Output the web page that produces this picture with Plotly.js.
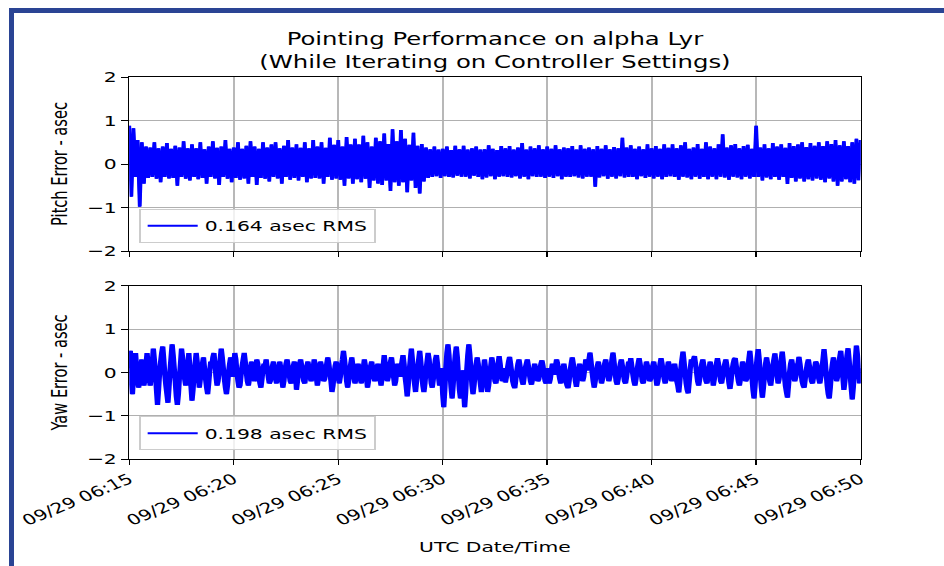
<!DOCTYPE html>
<html><head><meta charset="utf-8">
<script src="https://cdn.plot.ly/plotly-3.0.1.min.js"></script>
<style>
html,body{margin:0;padding:0;background:#fff;overflow:hidden;width:944px;height:566px;}
#wrap{position:absolute;left:0;top:0;width:679px;height:566px;transform:scaleX(1.3903);transform-origin:0 0;}
#chart{width:679px;height:566px;}
.bt{position:absolute;left:9px;top:8px;width:935px;height:5px;background:#2a4494;z-index:5}
.bl{position:absolute;left:9px;top:8px;width:5px;height:558px;background:#2a4494;z-index:5}
</style></head><body>
<div id="wrap"><div id="chart"></div></div>
<div class="bt"></div><div class="bl"></div>
<script>
// ---- data ----
const titleText = 'Pointing Performance on alpha Lyr<br>(While Iterating on Controller Settings)';
const pitchLabel = 'Pitch Error - asec';
const yawLabel = 'Yaw Error - asec';
const xLabel = 'UTC Date/Time';
const pitchLegend = '0.164 asec RMS';
const yawLegend = '0.198 asec RMS';
const rangeStart = '2019-09-29 06:15:00';
const rangeEnd = '2019-09-29 06:50:00';
const yTicks = [-2, -1, 0, 1, 2];
const pitchStepSec = 6;   // one sample every 6 s
const yawStepSec = 3;     // one sample every 3 s

// pitch error (asec), one row per minute from 06:15
const pitchError = [
 .88,-.75,.82,-.3,.55,-.98,.5,-.45,.4,-.32,
 .38,-.3,.5,-.34,.36,-.42,.4,-.3,.48,-.33,
 .35,-.32,.42,-.5,.38,-.3,.52,-.34,.36,-.38,
 .45,-.3,.36,-.35,.5,-.32,.34,-.45,.4,-.3,
 .52,-.33,.37,-.48,.4,-.3,.55,-.34,.35,-.42,
 .38,-.32,.5,-.36,.35,-.33,.42,-.45,.52,-.3,
 .4,-.48,.35,-.32,.5,-.34,.38,-.4,.45,-.3,
 .5,-.33,.36,-.45,.42,-.3,.55,-.36,.38,-.32,
 .45,-.38,.37,-.3,.5,-.42,.36,-.33,.55,-.32,
 .4,-.33,.5,-.45,.37,-.3,.6,-.36,.44,-.33,
 .55,-.36,.4,-.5,.62,-.33,.45,-.45,.58,-.35,
 .45,-.42,.65,-.34,.5,-.55,.4,-.38,.6,-.45,
 .52,-.48,.7,-.38,.46,-.62,.8,-.42,.52,-.5,
 .78,-.42,.58,-.65,.44,-.38,.72,-.55,.42,-.68,
 .46,-.4,.38,-.32,.34,-.3,.4,-.28,.33,-.32,
 .35,-.28,.4,-.3,.32,-.31,.42,-.27,.34,-.29,
 .42,-.29,.33,-.33,.36,-.27,.4,-.3,.33,-.35,
 .34,-.31,.43,-.28,.35,-.35,.32,-.29,.41,-.28,
 .36,-.3,.41,-.31,.33,-.28,.38,-.33,.48,-.29,
 .33,-.35,.4,-.28,.36,-.3,.43,-.29,.34,-.32,
 .4,-.29,.35,-.32,.43,-.28,.34,-.35,.38,-.29,
 .36,-.3,.41,-.28,.33,-.31,.43,-.33,.35,-.29,
 .38,-.29,.34,-.52,.41,-.31,.35,-.28,.43,-.34,
 .34,-.29,.39,-.33,.36,-.28,.6,-.31,.38,-.3,
 .43,-.3,.35,-.35,.4,-.28,.34,-.32,.45,-.29,
 .36,-.33,.41,-.29,.35,-.35,.45,-.3,.37,-.28,
 .45,-.3,.36,-.36,.43,-.29,.5,-.31,.35,-.35,
 .38,-.29,.46,-.34,.35,-.3,.5,-.35,.4,-.29,
 .36,-.35,.45,-.29,.68,-.31,.38,-.36,.43,-.29,
 .46,-.31,.36,-.35,.41,-.29,.44,-.33,.35,-.3,
 .88,-.3,.38,-.38,.45,-.31,.36,-.35,.48,-.3,
 .4,-.36,.45,-.3,.37,-.46,.48,-.32,.41,-.4,
 .45,-.33,.5,-.4,.39,-.35,.48,-.38,.42,-.33,
 .5,-.36,.41,-.42,.52,-.33,.46,-.4,.55,-.5,
 .43,-.4,.52,-.35,.41,-.42,.5,-.45,.58,-.37,
 .55
];

// yaw error (asec), one row per minute from 06:15
const yawError = [
 .1,.5,-.2,-.5,-.1,.2,.45,.1,-.2,-.35,-.1,.15,.3,-.05,-.3,-.15,.2,.45,.2,-.1,
 -.3,-.1,.2,.55,.3,0,-.4,-.75,-.4,0,.25,.45,.6,.3,-.05,-.3,-.5,-.7,-.35,.05,
 .35,.65,.4,.1,-.2,-.55,-.75,-.5,-.1,.2,.55,.35,.1,-.15,-.3,-.1,.2,.45,.1,-.3,
 -.65,-.4,-.05,.2,.45,.25,-.05,-.35,-.15,.05,.2,.35,.1,-.15,-.35,-.5,-.25,.05,.25,.15,
 .35,.45,.2,-.1,-.3,-.2,.05,.3,.55,.35,.1,-.15,-.35,-.5,-.3,0,.2,.35,.15,-.1,
 .15,.45,.3,0,-.2,-.35,-.3,-.05,.15,.3,.45,.25,0,-.2,-.3,-.15,.1,.25,.15,-.1,
 -.2,.05,.3,.2,-.05,-.25,-.35,-.15,.1,.2,.15,.3,.1,-.1,-.25,-.2,0,.15,.25,.05,
 -.15,-.25,-.1,.1,.25,.1,-.15,-.35,-.2,.05,.2,.3,.15,-.05,-.2,-.25,-.05,.15,.25,.1,
 -.4,-.2,.05,.2,.3,.15,-.05,-.2,-.25,-.05,.15,.25,.1,-.1,-.2,-.1,.1,.3,.15,-.1,
 -.3,-.15,.1,.25,.15,-.05,-.2,-.15,.05,.2,.35,.2,0,-.2,-.45,-.3,-.05,.15,.25,.1,
 -.1,-.25,-.1,.15,.3,.5,.3,.05,-.2,-.35,-.2,.05,.2,.35,.15,-.1,-.25,-.15,.05,.2,
 .1,-.1,-.25,-.1,.1,.3,.15,-.1,-.35,-.2,0,.15,.25,.1,-.1,-.2,-.1,.1,.2,.05,
 -.15,-.3,-.1,.15,.4,.2,-.05,-.2,-.1,.1,.25,.35,.15,-.1,-.3,-.2,.05,.2,.1,-.1,
 .1,.25,.4,.2,-.1,-.3,-.55,-.3,.05,.3,.55,.3,0,-.25,-.45,-.2,.1,.3,.5,.25,
 -.05,-.3,-.45,-.25,.05,.25,.45,.3,0,-.25,-.35,-.15,.1,.3,.4,.2,-.1,-.3,-.15,.1,
 -.5,-.8,-.4,.1,.45,.65,.4,0,-.35,-.6,-.3,.1,.4,.6,.35,-.05,-.4,-.6,-.3,.05,
 -.4,-.8,-.45,.05,.4,.65,.4,.05,-.3,-.5,-.3,0,.2,.35,.2,-.05,-.25,-.45,-.25,.05,
 .3,.1,-.15,-.45,-.3,-.05,.15,.35,.2,0,-.2,-.25,-.05,.2,.38,.2,-.05,-.2,-.1,.1,
 -.23,-.1,.1,.25,.36,.2,0,-.2,-.3,-.36,-.15,.05,.2,.3,.15,-.05,-.2,-.28,-.1,.1,
 .2,.3,.15,-.05,-.2,-.28,-.15,.05,.2,.1,-.05,-.2,-.15,.05,.2,.28,.15,-.05,-.2,-.25,
 -.1,.1,-.25,-.15,.05,.2,.1,-.05,.15,.3,.2,0,-.15,-.25,-.1,.1,.2,.05,-.2,-.3,
 -.36,-.2,.05,.2,.35,.2,0,-.2,-.33,-.15,.05,.2,.1,-.05,-.2,-.1,.1,.3,.2,.05,
 .3,.46,.25,0,-.2,-.35,-.2,0,.15,.25,.1,-.1,-.25,-.15,.05,.2,.3,.15,-.05,-.2,
 -.1,.1,.3,.46,.25,0,-.2,-.28,-.15,.05,.2,.3,.15,-.05,-.2,-.25,-.1,.1,.25,.15,
 .33,.15,-.05,-.2,-.3,-.15,.05,.2,.33,.2,0,-.2,-.25,-.1,.1,.25,.15,-.05,-.2,-.15,
 0,.15,.25,.1,-.1,-.3,-.2,0,.2,.33,.2,0,-.15,-.25,-.1,.1,.25,.15,-.05,-.2,
 -.1,.1,.2,.05,-.2,-.3,-.46,-.2,.1,.3,.48,.25,0,-.25,-.4,-.48,-.2,.1,.3,.2,
 .3,.38,.2,0,-.2,-.3,-.15,.05,.2,.3,.15,-.05,-.2,-.25,-.1,.1,.25,.1,-.1,-.3,
 -.15,.05,.2,.33,.2,0,-.2,-.25,-.1,.1,.2,.3,.15,-.05,-.25,-.38,-.2,.05,.2,.3,
 .33,.15,-.05,-.2,-.3,-.15,.05,.25,.15,-.05,-.2,-.15,.1,.3,.5,.25,-.1,-.4,-.6,-.3,
 .1,.35,.54,.3,-.05,-.35,-.58,-.35,-.05,.2,.35,.2,-.05,-.2,-.3,-.1,.15,.3,.44,.2,
 -.05,-.25,-.15,.1,.3,.48,.25,-.05,-.3,-.45,-.58,-.3,0,.2,.3,.15,-.1,-.2,-.1,.1,
 .2,.36,.2,0,-.2,-.3,-.35,-.15,.05,.2,.3,.15,-.05,-.2,-.25,-.1,.1,.25,.2,0,
 -.15,-.25,-.1,.1,.3,.54,.3,0,-.3,-.5,-.6,-.35,0,.2,.35,.2,-.05,-.2,-.1,.15,
 .35,.5,.25,-.1,-.4,-.2,.15,.4,.56,.3,-.05,-.35,-.62,-.35,0,.3,.62,.4,.1,-.25,
 .1
];

// ---- time grid ----
function timeGrid(n, stepSec) {
  const t0 = Date.parse(rangeStart.replace(' ', 'T') + 'Z');
  const out = [];
  for (let i = 0; i < n; i++) {
    out.push(new Date(t0 + i * stepSec * 1000).toISOString().slice(0, 19).replace('T', ' '));
  }
  return out;
}
const pitchTime = timeGrid(pitchError.length, pitchStepSec);
const yawTime = timeGrid(yawError.length, yawStepSec);

const FS = 14.6;
const BLUE = '#0000ff';

const traces = [
  // thin strokes (these carry the legend entries)
  {type: 'scatter', mode: 'lines', x: pitchTime, y: pitchError, xaxis: 'x', yaxis: 'y',
   name: pitchLegend, legend: 'legend', line: {color: BLUE, width: 2, simplify: false}, hoverinfo: 'skip'},
  {type: 'scatter', mode: 'lines', x: yawTime, y: yawError, xaxis: 'x2', yaxis: 'y2',
   name: yawLegend, legend: 'legend2', line: {color: BLUE, width: 2, simplify: false}, hoverinfo: 'skip'},
  // dense rendering of the same series
  {type: 'scatter', mode: 'lines', x: pitchTime, y: pitchError, xaxis: 'x', yaxis: 'y',
   showlegend: false, line: {color: BLUE, width: 2.7, simplify: false}, hoverinfo: 'skip'},
  {type: 'scatter', mode: 'lines', x: yawTime, y: yawError, xaxis: 'x2', yaxis: 'y2',
   showlegend: false, line: {color: BLUE, width: 3.8, simplify: false}, hoverinfo: 'skip'}
];

const xCommon = {
  type: 'date', range: [rangeStart, rangeEnd], tick0: rangeStart, dtick: 300000,
  tickformat: '%m/%d %H:%M', ticks: 'outside', ticklen: 5, tickwidth: 1, tickcolor: '#000',
  showgrid: true, gridcolor: '#b8b8b8', gridwidth: 1.44, showline: true, linecolor: '#000',
  linewidth: 1.2, mirror: true, zeroline: false, automargin: false,
  tickfont: {size: FS, color: '#000'}
};
const yCommon = {
  range: [-2, 2], tickvals: yTicks, ticks: 'outside', ticklen: 5, tickwidth: 1, tickcolor: '#000',
  showgrid: true, gridcolor: '#b0b0b0', gridwidth: 1, showline: true, linecolor: '#000',
  linewidth: 1.2, mirror: true, zeroline: false, automargin: false,
  tickfont: {size: FS, color: '#000'}
};
const legendCommon = {
  xanchor: 'left', yanchor: 'top', bgcolor: 'rgba(255,255,255,0.8)', itemwidth: 36,
  bordercolor: '#cccccc', borderwidth: 1, font: {size: FS, color: '#000'}
};

const layout = {
  width: 679, height: 566,
  margin: {l: 92.8, r: 59.6, t: 77, b: 107, pad: 0},
  paper_bgcolor: '#fff', plot_bgcolor: '#fff',
  font: {family: 'DejaVu Sans', size: FS, color: '#000'},
  title: {text: titleText, font: {size: 17.5, color: '#000'}, x: 0.5, xref: 'paper',
          xanchor: 'center', y: 1 - 45 / 566, yref: 'container', yanchor: 'top'},
  showlegend: true,
  xaxis: Object.assign({}, xCommon, {domain: [0, 1], anchor: 'y', showticklabels: false}),
  yaxis: Object.assign({}, yCommon, {domain: [0.5445, 1], anchor: 'x',
          title: {text: pitchLabel, standoff: 10, font: {size: FS}}}),
  xaxis2: Object.assign({}, xCommon, {domain: [0, 1], anchor: 'y2', showticklabels: true,
          tickangle: -30, title: {text: xLabel, standoff: 14, font: {size: FS}}}),
  yaxis2: Object.assign({}, yCommon, {domain: [0, 0.4529], anchor: 'x2',
          title: {text: yawLabel, standoff: 10, font: {size: FS}}}),
  legend: Object.assign({}, legendCommon, {x: 0.0137, y: 0.655}),
  legend2: Object.assign({}, legendCommon, {x: 0.0137, y: 0.112})
};

Plotly.newPlot('chart', traces, layout, {staticPlot: true, displayModeBar: false});
</script></body></html>
